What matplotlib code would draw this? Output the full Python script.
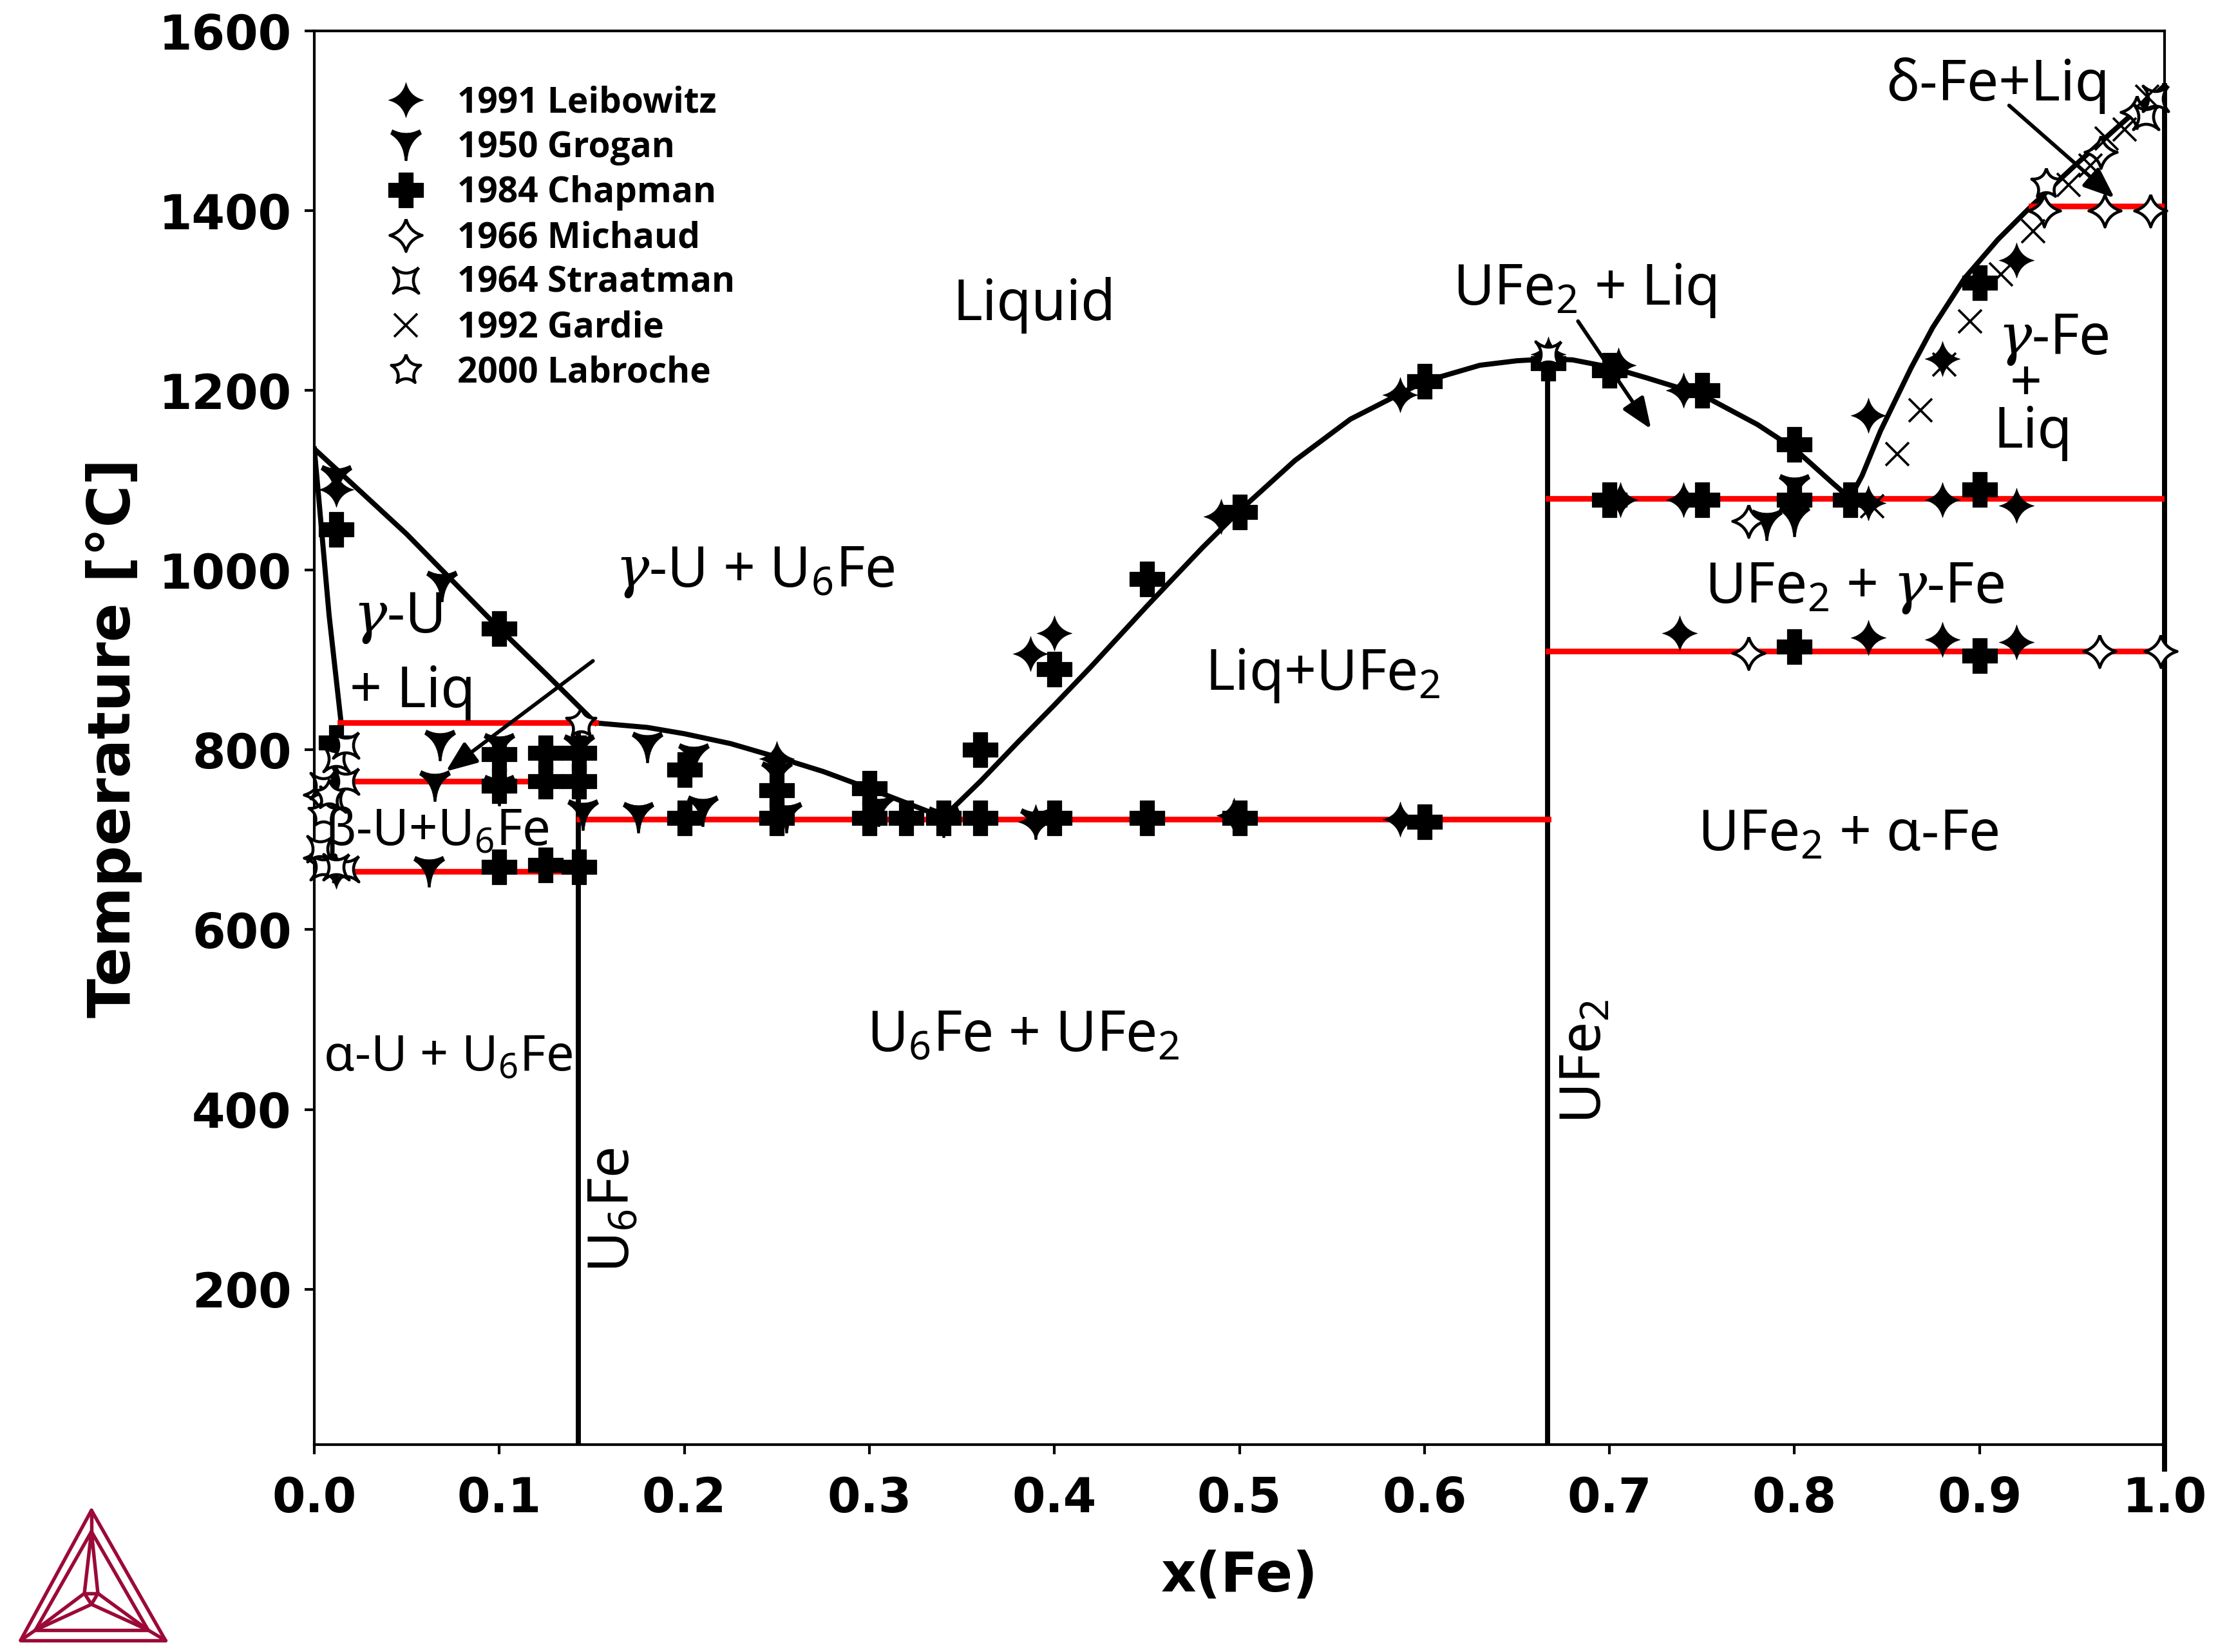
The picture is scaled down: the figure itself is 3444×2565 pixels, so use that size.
import numpy as np
import matplotlib
matplotlib.use("Agg")
import matplotlib.pyplot as plt
from matplotlib.path import Path
from matplotlib.lines import Line2D

plt.rcParams['font.family'] = ['Noto Sans', 'DejaVu Sans']
plt.rcParams['mathtext.fontset'] = 'custom'
plt.rcParams['mathtext.rm'] = 'Noto Sans'
plt.rcParams['mathtext.it'] = 'DejaVu Serif:italic'
plt.rcParams['mathtext.bf'] = 'Noto Sans:bold'

# phase boundaries
liq_left_x = [0.0, 0.05, 0.1, 0.125, 0.152]
liq_left_t = [1135, 1040, 935, 885, 830]
sol_gamma_x = [0.0, 0.002, 0.008, 0.0145]
sol_gamma_t = [1135, 1090, 950, 830]
liq_u6fe_x = [0.152, 0.18, 0.2, 0.225, 0.25, 0.275, 0.3, 0.32, 0.34]
liq_u6fe_t = [830, 825, 818, 807, 792, 776, 757, 741, 725]
liq_ufe2_x = [0.34, 0.36, 0.38, 0.40, 0.42, 0.45, 0.48, 0.5, 0.53, 0.56, 0.6, 0.63, 0.65, 0.667, 0.68, 0.70, 0.72,
              0.75, 0.78, 0.80, 0.82, 0.83]
liq_ufe2_t = [725, 765, 808, 850, 893, 960, 1025, 1066, 1122, 1168, 1210, 1228, 1233, 1235, 1234, 1226, 1214,
              1195, 1162, 1135, 1098, 1080]
liq_fe_x = [0.83, 0.8365, 0.8465, 0.863, 0.8747, 0.892, 0.91, 0.928, 0.953, 0.9735, 1.0]
liq_fe_t = [1080, 1105, 1155, 1225, 1270, 1325, 1368, 1405, 1453, 1491, 1539]
compound_x = [1 / 7, 2 / 3, 1.0]
compound_t = [830, 1235, 1539]

# invariant reactions: x start, x end, temperature
red_x0 = [0.0138, 0.0, 0.143, 0.0, 0.667, 0.667, 0.928]
red_x1 = [0.152, 0.143, 0.667, 0.143, 1.0, 1.0, 1.0]
red_t = [830, 765, 723, 665, 1080, 910, 1405]

# experimental points
leibowitz_x = [0.012, 0.012, 0.012, 0.25, 0.387, 0.40, 0.39, 0.49, 0.497, 0.587, 0.587, 0.667, 0.705, 0.706, 0.74,
               0.74, 0.738, 0.80, 0.84, 0.84, 0.84, 0.88, 0.88, 0.88, 0.92, 0.92, 0.92, 0.34]
leibowitz_t = [1090, 765, 665, 790, 907, 930, 720, 1060, 727, 1195, 723, 1240, 1228, 1078, 1200,
               1078, 930, 1075, 1172, 1075, 925, 1235, 1078, 923, 1345, 1072, 920, 722]
grogan_x = [0.012, 0.069, 0.068, 0.065, 0.062, 0.10, 0.10, 0.143, 0.145, 0.18, 0.175, 0.205, 0.21, 0.25,
            0.255, 0.305, 0.34, 0.39, 0.80, 0.80, 0.785]
grogan_t = [1100, 982, 805, 760, 665, 802, 755, 800, 728, 803, 725, 790, 732, 770,
            725, 732, 720, 718, 1090, 1055, 1050]
chapman_x = [0.012, 0.1, 0.012, 0.1, 0.125, 0.143, 0.1, 0.125, 0.143, 0.1, 0.125, 0.143, 0.2, 0.2, 0.25, 0.25,
             0.3, 0.3, 0.32, 0.34, 0.36, 0.36, 0.4, 0.4, 0.45, 0.45, 0.5, 0.5, 0.6, 0.6, 0.667, 0.7, 0.75, 0.7,
             0.75, 0.8, 0.8, 0.83, 0.9, 0.9, 0.8, 0.9]
chapman_t = [1045, 935, 808, 795, 797, 797, 760, 765, 765, 670, 672, 670, 778, 724, 755, 724,
             757, 724, 724, 724, 724, 800, 890, 724, 990, 724, 1065, 724, 1210, 720, 1230, 1222, 1200, 1078,
             1078, 1140, 1078, 1078, 1320, 1090, 915, 905]
michaud_x = [0.003, 0.003, 0.775, 0.775, 0.965, 0.9675, 0.9925, 0.9655, 0.985, 0.935, 0.998]
michaud_t = [680, 750, 1055, 908, 910, 1400, 1400, 1465, 1510, 1400, 910]
straatman_x = [0.012, 0.017, 0.005, 0.01, 0.017, 0.005, 0.017, 0.003, 0.012, 0.667, 0.99, 0.995]
straatman_t = [790, 805, 760, 745, 765, 670, 668, 690, 670, 1240, 1505, 1525]
gardie_x = [0.842, 0.8555, 0.868, 0.881, 0.895, 0.9115, 0.929, 0.948, 0.96, 0.9685, 0.9785, 0.9905]
gardie_t = [1071, 1129, 1178, 1229, 1277, 1329, 1377, 1429, 1450, 1480, 1490, 1527]
labroche_x = [0.144, 0.936, 0.005, 0.008]
labroche_t = [830, 1430, 730, 750]

legend_names = ['1991 Leibowitz', '1950 Grogan', '1984 Chapman', '1966 Michaud',
                '1964 Straatman', '1992 Gardie', '2000 Labroche']


def curved_star(tips, ctrl):
    # closed shape of tips joined by quadratic curves through ctrl points
    verts = [tips[0]]
    codes = [Path.MOVETO]
    for i in range(1, len(tips) + 1):
        verts += [ctrl[i - 1], tips[i % len(tips)]]
        codes += [Path.CURVE3, Path.CURVE3]
    return Path(verts, codes, closed=False)


star4 = curved_star([(0, 1), (1, 0), (0, -1), (-1, 0)],
                    [(0.2, 0.2), (0.2, -0.2), (-0.2, -0.2), (-0.2, 0.2)])
hollow4 = curved_star([(0, 1), (1, 0), (0, -1), (-1, 0)],
                      [(0.22, 0.22), (0.22, -0.22), (-0.22, -0.22), (-0.22, 0.22)])
xstar = curved_star([(1, 1), (1, -1), (-1, -1), (-1, 1)],
                    [(0.15, 0), (0, -0.15), (-0.15, 0), (0, 0.15)])
ystar = Path([(-1, 0.72), (-0.88, 1), (0, 0.55), (0.88, 1), (1, 0.72), (0.14, 0.2), (0.07, -1), (-0.07, -1),
              (-0.14, 0.2), (-1, 0.72)],
             [Path.MOVETO, Path.LINETO, Path.CURVE3, Path.CURVE3, Path.LINETO, Path.CURVE3, Path.CURVE3, Path.LINETO,
              Path.CURVE3, Path.CURVE3])
plus = Path([(-0.4, 1), (0.4, 1), (0.4, 0.4), (1, 0.4), (1, -0.4), (0.4, -0.4), (0.4, -1), (-0.4, -1),
             (-0.4, -0.4), (-1, -0.4), (-1, 0.4), (-0.4, 0.4), (-0.4, 1)])
ang = np.deg2rad(90 + 72 * np.arange(5))
tips5 = [(np.cos(a), np.sin(a)) for a in ang]
ctrl5 = [(0.32 * np.cos(a + np.pi / 5), 0.32 * np.sin(a + np.pi / 5)) for a in ang]
star5 = curved_star(tips5, ctrl5)

fig = plt.figure(figsize=(3445 / 300, 2565 / 300), dpi=300)
ax = fig.add_axes([488 / 3445, 1 - 2243 / 2565, (3361 - 488) / 3445, (2243 - 48) / 2565])

black_lw = 1.9
for x, t in [(liq_left_x, liq_left_t), (sol_gamma_x, sol_gamma_t), (liq_u6fe_x, liq_u6fe_t),
             (liq_ufe2_x, liq_ufe2_t), (liq_fe_x, liq_fe_t)]:
    ax.plot(x, t, color='k', lw=black_lw, zorder=2)
for x, t in zip(compound_x, compound_t):
    ax.plot([x, x], [0, t], color='k', lw=black_lw, zorder=2, clip_on=False if x == 1.0 else True)
for x0, x1, t in zip(red_x0, red_x1, red_t):
    ax.plot([x0, x1], [t, t], color='#ff0000', lw=2.1, zorder=3)

series = [
    (leibowitz_x, leibowitz_t, star4, 13, 'k', 0.2),
    (grogan_x, grogan_t, ystar, 11.5, 'k', 0.2),
    (chapman_x, chapman_t, plus, 13, 'k', 0.3),
    (michaud_x, michaud_t, hollow4, 12, 'w', 1.1),
    (straatman_x, straatman_t, xstar, 9.5, 'w', 1.1),
    (gardie_x, gardie_t, 'x', 8.5, 'k', 0.9),
    (labroche_x, labroche_t, star5, 11.5, 'w', 1.1),
]
handles = []
for (x, t, m, ms, fc, mew), name in zip(series, legend_names):
    style = dict(marker=m, ms=ms, mfc=fc, mec='k', mew=mew, ls='none')
    ax.plot(x, t, zorder=4, clip_on=False, **style)
    handles.append(Line2D([], [], label=name, **style))

ax.set_xlim(0, 1)
ax.set_ylim(27, 1600)
ax.set_xticks(np.arange(0, 1.01, 0.1))
ax.set_yticks(np.arange(200, 1601, 200))
ax.set_xticklabels(['%.1f' % v for v in np.arange(0, 1.01, 0.1)], fontsize=17.8, fontweight='bold', family='DejaVu Sans')
ax.set_yticklabels([str(v) for v in range(200, 1601, 200)], fontsize=17.8, fontweight='bold', family='DejaVu Sans')
ax.tick_params(length=3.5, width=1, pad=5)
ax.tick_params(axis='x', pad=8)
for s in ax.spines.values():
    s.set_linewidth(1.0)
ax.set_xlabel('x(Fe)', fontsize=20.3, fontweight='bold', family='DejaVu Sans', labelpad=10)
ax.set_ylabel('Temperature [°C]', fontsize=21.5, fontweight='bold', family='DejaVu Sans', labelpad=6)

leg = ax.legend(handles=handles, loc='upper left', bbox_to_anchor=(0.029, 0.969), frameon=False, numpoints=1,
                prop={'family': 'Open Sans', 'weight': 'bold', 'size': 13.2}, labelspacing=0.27, handlelength=1.55,
                handletextpad=0.68, borderpad=0.3, borderaxespad=0)

labels = [
    ('Liquid', 0.389, 1295, 21, 0),
    (r'$\mathit{\gamma}$-U + U$_6$Fe', 0.238, 998, 21, 0),
    (r'$\mathit{\gamma}$-U', 0.045, 947, 21, 0),
    ('+ Liq', 0.053, 864, 21, 0),
    ('β-U+U$_6$Fe', 0.0665, 709, 18.7, 0),
    ('α-U + U$_6$Fe', 0.072, 457, 18.6, 0),
    ('U$_6$Fe', 0.162, 288, 21, 90),
    ('U$_6$Fe + UFe$_2$', 0.383, 481, 21, 0),
    ('Liq+UFe$_2$', 0.545, 883, 21, 0),
    ('UFe$_2$', 0.687, 453, 21, 90),
    ('UFe$_2$ + Liq', 0.6865, 1311, 21, 0),
    (r'UFe$_2$ + $\mathit{\gamma}$-Fe', 0.8325, 980, 21, 0),
    ('UFe$_2$ + α-Fe', 0.829, 705, 21, 0),
    (r'$\mathit{\gamma}$-Fe', 0.94, 1257, 21, 0),
    ('+', 0.925, 1205, 21, 0),
    ('Liq', 0.929, 1153, 21, 0),
    ('δ-Fe+Liq', 0.91, 1539, 21, 0),
]
for s, x, t, size, rot in labels:
    ax.text(x, t, s, fontsize=size, rotation=rot, ha='center', va='center', zorder=5)

arrows = [((0.1506, 899), (0.0711, 776)), ((0.683, 1277), (0.7225, 1157)), ((0.916, 1517), (0.973, 1414))]
for start, tip in arrows:
    ax.annotate('', xy=tip, xytext=start, zorder=5,
                arrowprops=dict(arrowstyle='-|>,head_length=0.75,head_width=0.3', color='k', lw=1.4,
                                shrinkA=0, shrinkB=0, mutation_scale=13))

# Thermo-Calc logo, in figure pixels
logo = fig.add_axes([0, 0, 1, 1], facecolor='none')
logo.set_xlim(0, 3445)
logo.set_ylim(2565, 0)
logo.axis('off')
top, bl, br = (142, 2345), (32, 2547), (257, 2547)
itop, ibl, ibr = (142, 2378), (55, 2531), (230, 2531)
c1, c2, c3 = (131, 2474), (152, 2474), (142, 2491)
segs = [(top, bl), (top, br), (bl, br), (top, itop), (itop, ibl), (itop, ibr), (ibl, ibr), (bl, ibl), (br, ibr),
        (itop, c1), (itop, c2), (c1, c2), (c1, c3), (c2, c3), (c1, ibl), (c2, ibr), (c3, ibl), (c3, ibr)]
for a, b in segs:
    logo.plot([a[0], b[0]], [a[1], b[1]], color='#9b0a38', lw=1.3, solid_capstyle='round')

fig.savefig('out.png', dpi=300)
